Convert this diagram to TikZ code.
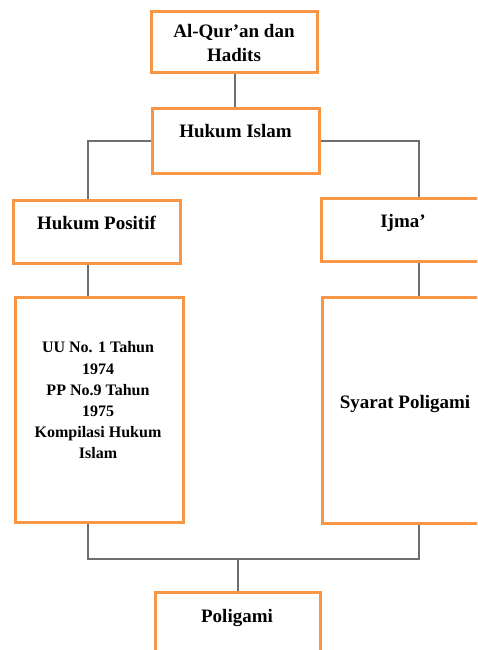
\documentclass[tikz,border=0pt]{standalone}
\usepackage{fontspec}
\setmainfont{Liberation Serif}
\usetikzlibrary{calc}
\definecolor{boxorange}{HTML}{F79646}
\definecolor{linegray}{HTML}{6E6E6E}
\begin{document}
\begin{tikzpicture}[x=1pt,y=-1pt,
  box/.style={draw=boxorange,line width=3pt,fill=white,rectangle,inner sep=0pt},
  conn/.style={draw=linegray,line width=1.3pt},
  big/.style={font=\fontsize{19}{24}\selectfont\bfseries,inner sep=0pt,align=center},
  small/.style={font=\fontsize{16}{21.2}\selectfont\bfseries,inner sep=0pt,align=center}]
\useasboundingbox (0,0) rectangle (477,650);
\clip (0,0) rectangle (477,650);
\fill[white] (0,0) rectangle (477,650);

\coordinate (colL) at (88,0);
\coordinate (colR) at (419,0);
\coordinate (join) at (238,559);

\node[box,minimum width=166pt,minimum height=61pt] (qur) at (234,42.5) {};
\node[box,minimum width=167pt,minimum height=64pt] (islam) at (235.5,141) {};
\node[box,minimum width=167pt,minimum height=63pt] (positif) at (96.5,231.5) {};
\node[box,minimum width=167pt,minimum height=63pt] (ijma) at (404.5,229.5) {};
\node[box,minimum width=168pt,minimum height=225pt] (uu) at (99,409.5) {};
\node[box,minimum width=167pt,minimum height=226pt] (syarat) at (405.5,410) {};
\node[box,minimum width=165pt,minimum height=63pt] (poligami) at (237.5,623.5) {};

\draw[conn] (qur.south -| 235,0) -- (islam.north -| 235,0);
\draw[conn] (islam.west) -| (positif.north -| colL);
\draw[conn] (islam.east) -| (ijma.north -| colR);
\draw[conn] (positif.south -| colL) -- (uu.north -| colL);
\draw[conn] (ijma.south -| colR) -- (syarat.north -| colR);
\draw[conn] (uu.south -| colL) |- (join);
\draw[conn] (syarat.south -| colR) |- (join);
\draw[conn] (join) -- (poligami.north -| join);

\node[big,anchor=center] (tqur) at (234,42.8) {Al-Qur’an dan\\Hadits};
\node[big,anchor=base] (tislam) at (235.5,138) {Hukum Islam};
\node[big,anchor=base] (tpositif) at (96.5,229) {Hukum Positif};
\node[big,anchor=base] (tijma) at (403,227) {Ijma’};
\node[small,anchor=center] (tuu) at (98,400.5) {UU No. 1 Tahun\\1974\\PP No.9 Tahun\\1975\\Kompilasi Hukum\\Islam};
\node[big,anchor=base] (tsyarat) at (405,408) {Syarat Poligami};
\node[big,anchor=base] (tpoligami) at (237,622) {Poligami};
\end{tikzpicture}
\end{document}
